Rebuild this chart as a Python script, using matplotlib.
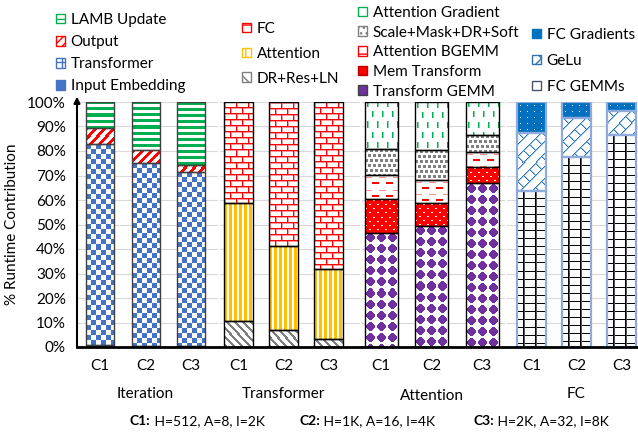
import numpy as np
import matplotlib
matplotlib.use("Agg")
import matplotlib.pyplot as plt
from matplotlib.patches import Patch
from matplotlib.colors import to_rgb
from matplotlib.transforms import blended_transform_factory

plt.rcParams['font.family'] = ['Lato', 'DejaVu Sans']
plt.rcParams['hatch.linewidth'] = 1.0

# ---------------- data ----------------
configs = ["C1", "C2", "C3"]
group_names = ["Iteration", "Transformer", "Attention", "FC"]

iter_input_embedding = [1.0, 0.6, 0.6]
iter_transformer = [81.7, 74.6, 70.7]
iter_output = [6.6, 5.2, 3.0]
iter_lamb_update = [10.7, 19.6, 25.7]

tr_dr_res_ln = [10.7, 7.1, 3.1]
tr_attention = [47.9, 34.2, 28.7]
tr_fc = [41.4, 58.7, 68.2]

att_transform_gemm = [46.7, 49.4, 66.8]
att_mem_transform = [13.6, 9.3, 6.5]
att_bgemm = [9.8, 9.6, 6.4]
att_scale_mask = [10.6, 12.2, 6.8]
att_gradient = [19.3, 19.5, 13.5]

fc_gemms = [63.8, 77.4, 86.4]
fc_gelu = [23.7, 16.2, 10.0]
fc_gradients = [12.5, 6.4, 3.6]

yticks = list(range(0, 101, 10))
config_notes = [("C1:", " H=512, A=8, I=2K"), ("C2:", " H=1K, A=16, I=4K"), ("C3:", " H=2K, A=32, I=8K")]

# ---------------- pattern textures ----------------
def make_pattern(name, h, w):
    I, J = np.mgrid[0:h, 0:w]
    img = np.ones((h, w, 3))

    def paint(mask, color):
        img[mask] = to_rgb(color)

    if name == 'lamb':
        paint(I % 6 < 3, '#00B050')
    elif name == 'output':
        paint((I + J) % 9 < 4, '#FF0000')
    elif name == 'checker':
        paint(((I // 5) + (J // 5)) % 2 == 0, '#4472C4')
    elif name == 'solid_blue':
        paint(I >= 0, '#4472C4')
    elif name == 'brick':
        row = I // 6
        vert = ((J + 6 * (row % 2)) % 12 == 0)
        paint(I % 6 == 1, '#FF9999')
        paint(((J + 6 * (row % 2)) % 12 == 1), '#FF9999')
        paint(I % 6 == 0, '#FF0000')
        paint(vert, '#FF0000')
    elif name == 'yellow':
        paint(J % 5 < 3, '#FFC000')
    elif name == 'graydiag':
        paint((J - I) % 8 < 3, '#7F7F7F')
    elif name == 'vdash':
        d1 = (I % 20 < 6)
        d2 = ((I - 10) % 20 < 6)
        paint(d1 & (J % 10 == 2), '#00B050')
        paint(d1 & (J % 10 == 3), '#7FD7A0')
        paint(d2 & (J % 10 == 7), '#00B050')
        paint(d2 & (J % 10 == 8), '#7FD7A0')
    elif name == 'confetti':
        paint(((I % 5) < 3) & (((J + 2 * ((I // 5) % 2)) % 5) < 3), '#808080')
    elif name == 'hdash':
        paint((I % 12 == 3) & ((J % 14) < 7), '#FF9090')
        paint(((I % 12 == 8) | (I % 12 == 9)) & (((J + 7) % 14) < 7), '#FF0000')
    elif name == 'mem':
        paint(I >= 0, '#FF0000')
        paint((I % 4 == 1) & (((J + 4 * ((I // 4) % 2)) % 8) < 2), '#FFFFFF')
    elif name == 'purple':
        dy = (I % 11) - 5
        dx = (J % 11) - 5
        blob = (np.abs(dx) + np.abs(dy) <= 5) & (np.abs(dx) <= 4) & (np.abs(dy) <= 4)
        paint(blob, '#7030A0')
    elif name == 'bluedots':
        paint(I >= 0, '#0070C0')
        paint((I % 6 == 3) & (J % 7 == 3), '#FFFFFF')
    elif name == 'weave':
        slash = (I + J) % 12 == 0
        band = ((I + J) // 12) % 2 == 0
        back = ((J - I) % 12 == 0) & band
        paint(((I + J) % 12 == 1) | (((J - I) % 12 == 1) & band), '#9DC3E6')
        paint(slash | back, '#2E75B6')
    elif name == 'grid':
        paint(I % 8 == 0, '#000000')
        paint(J % 12 == 7, '#555555')
        paint(J % 12 == 6, '#000000')
    return img


def texture_bars(ax, bars, pattern):
    for rect in bars:
        x0, y0 = rect.get_x(), rect.get_y()
        w, h = rect.get_width(), rect.get_height()
        (px0, py0), (px1, py1) = ax.transData.transform([(x0, y0), (x0 + w, y0 + h)])
        npx = max(1, int(round(px1 - px0)))
        npy = max(1, int(round(py1 - py0)))
        img = make_pattern(pattern, npy, npx)
        ax.imshow(img, extent=(x0, x0 + w, y0, y0 + h), origin='upper',
                  interpolation='nearest', aspect='auto', zorder=3)


# ---------------- figure ----------------
W, H = 638, 433
fig = plt.figure(figsize=(W / 100, H / 100), dpi=100)
Y0, Y1 = 347, 102

panels = [
    dict(left=77, right=218, c0=100, sp=45.5, bw=28, edge='#404040', lw=1.0,
         series=[(iter_input_embedding, 'solid_blue'), (iter_transformer, 'checker'),
                 (iter_output, 'output'), (iter_lamb_update, 'lamb')], name_y=394),
    dict(left=220, right=360, c0=238.5, sp=45, bw=29, edge='#000000', lw=1.0,
         series=[(tr_dr_res_ln, 'graydiag'), (tr_attention, 'yellow'), (tr_fc, 'brick')], name_y=394),
    dict(left=362, right=505, c0=381, sp=50.5, bw=33, edge='#000000', lw=1.0,
         series=[(att_transform_gemm, 'purple'), (att_mem_transform, 'mem'), (att_bgemm, 'hdash'),
                 (att_scale_mask, 'confetti'), (att_gradient, 'vdash')], name_y=396),
    dict(left=507, right=638, c0=531.5, sp=45, bw=29, edge='#8FAADC', lw=1.6,
         series=[(fc_gemms, 'grid'), (fc_gelu, 'weave'), (fc_gradients, 'bluedots')], name_y=394),
]

axes = []
for k, p in enumerate(panels):
    ax = fig.add_axes([p['left'] / W, 1 - Y0 / H, (p['right'] - p['left']) / W, (Y0 - Y1) / H])
    ax.set_xlim((p['left'] - p['c0']) / p['sp'], (p['right'] - p['c0']) / p['sp'])
    ax.set_ylim(0, 100)
    x = np.arange(len(configs))
    width = p['bw'] / p['sp']
    bottom = np.zeros(len(configs))
    for vals, pat in p['series']:
        bars = ax.bar(x, vals, width, bottom=bottom, color='white', edgecolor='none', zorder=2)
        texture_bars(ax, bars, pat)
        ax.bar(x, vals, width, bottom=bottom, fill=False, edgecolor=p['edge'], lw=p['lw'], zorder=4)
        bottom = bottom + np.array(vals)
    ax.set_xlim((p['left'] - p['c0']) / p['sp'], (p['right'] - p['c0']) / p['sp'])
    ax.set_ylim(0, 100)
    ax.set_yticks(yticks)
    ax.yaxis.grid(True, color='#D9D9D9', lw=0.8, zorder=0)
    ax.set_axisbelow(True)
    ax.set_xticks(x, configs)
    ax.tick_params(axis='x', length=0, pad=9, labelsize=11)
    for s in ['top', 'right', 'left']:
        ax.spines[s].set_visible(False)
    ax.spines['bottom'].set_linewidth(2)
    ax.spines['bottom'].set_color('black')
    ax.spines['bottom'].set_zorder(6)
    if k == 0:
        ax.set_yticklabels([f"{v}%" for v in yticks])
        ax.tick_params(axis='y', length=0, pad=8, labelsize=11)
        ax.annotate('', xy=(0, 1.022), xytext=(0, 0), xycoords='axes fraction',
                    arrowprops=dict(arrowstyle='-|>', lw=1.5, color='black', mutation_scale=9,
                                    shrinkA=0, shrinkB=0), zorder=7)
    else:
        ax.tick_params(axis='y', length=0, labelleft=False)
    tr = blended_transform_factory(ax.transData, fig.transFigure)
    ax.text(1, 1 - p['name_y'] / H, group_names[k], transform=tr, ha='center', va='center', fontsize=11)
    axes.append(ax)

fig.text(12 / W, 1 - 224 / H, '% Runtime Contribution', rotation=90, va='center', ha='center', fontsize=11)

# ---------------- legends ----------------
def leg(handles, labels, x_px, top_px, spacing):
    fig.legend(handles, labels, loc='upper left', bbox_to_anchor=(x_px / W, 1 - top_px / H),
               frameon=False, fontsize=11, handlelength=0.6, handleheight=0.6,
               handletextpad=0.35, labelspacing=spacing, borderpad=0, borderaxespad=0)

leg([Patch(facecolor='white', edgecolor='#00B050', hatch='---'),
     Patch(facecolor='white', edgecolor='#FF0000', hatch='////'),
     Patch(facecolor='white', edgecolor='#4472C4', hatch='++'),
     Patch(facecolor='#4472C4', edgecolor='#4472C4')],
    ["LAMB Update", "Output", "Transformer", "Input Embedding"], 56, 13, 0.53)

leg([Patch(facecolor='white', edgecolor='#FF0000', hatch='+'),
     Patch(facecolor='white', edgecolor='#FFC000', hatch='||'),
     Patch(facecolor='white', edgecolor='#7F7F7F', hatch='\\\\')],
    ["FC", "Attention", "DR+Res+LN"], 242, 22, 0.71)

leg([Patch(facecolor='white', edgecolor='#00B050', hatch='|'),
     Patch(facecolor='white', edgecolor='#7F7F7F', hatch='...'),
     Patch(facecolor='white', edgecolor='#FF0000', hatch='--'),
     Patch(facecolor='#FF0000', edgecolor='#C00000', hatch='..'),
     Patch(facecolor='#7030A0', edgecolor='#404040')],
    ["Attention Gradient", "Scale+Mask+DR+Soft", "Attention BGEMM", "Mem Transform", "Transform GEMM"],
    358, 6, 0.37)

leg([Patch(facecolor='#0070C0', edgecolor='#0070C0'),
     Patch(facecolor='white', edgecolor='#2E75B6', hatch='xx'),
     Patch(facecolor='white', edgecolor='#44546A')],
    ["FC Gradients", "GeLu", "FC GEMMs"], 532, 28, 0.78)

# ---------------- config notes ----------------
fig.canvas.draw()
renderer = fig.canvas.get_renderer()
note_x = [130, 299, 473]
for (bold, rest), xp in zip(config_notes, note_x):
    t1 = fig.text(xp / W, 1 - 421 / H, bold, fontweight='bold', fontsize=10, va='center', ha='left')
    bb = t1.get_window_extent(renderer)
    fig.text(bb.x1 / W, 1 - 421 / H, rest, fontsize=10, va='center', ha='left')

fig.savefig('out.png', dpi=100)
